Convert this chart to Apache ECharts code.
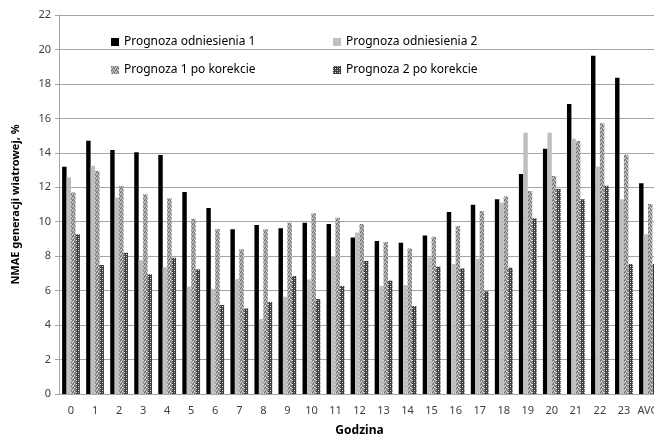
<!DOCTYPE html>
<html>
<head>
<meta charset="utf-8">
<script src="https://cdn.jsdelivr.net/npm/echarts@6/dist/echarts.min.js"></script>
<style>
html,body{margin:0;padding:0;background:#fff;overflow:hidden;}
#chart{width:654px;height:437px;}
</style>
</head>
<body>
<div id="chart"></div>
<script>
const categories = ['0','1','2','3','4','5','6','7','8','9','10','11','12','13','14','15','16','17','18','19','20','21','22','23','AVG'];
const seriesNames = ['Prognoza odniesienia 1','Prognoza odniesienia 2','Prognoza 1 po korekcie','Prognoza 2 po korekcie'];
const ref1 = [13.19,14.70,14.16,14.03,13.87,11.72,10.80,9.57,9.81,9.62,9.94,9.87,9.09,8.88,8.78,9.20,10.56,10.99,11.30,12.77,14.24,16.83,19.64,18.36,12.23];
const ref2 = [12.58,13.25,11.39,7.78,7.35,6.23,6.11,6.67,4.35,5.65,6.65,8.01,9.38,6.27,6.33,7.93,7.54,7.85,11.10,15.17,15.17,14.82,13.19,11.30,9.27];
const kor1 = [11.70,12.94,12.07,11.59,11.36,10.17,9.58,8.40,9.56,9.94,10.49,10.23,9.87,8.82,8.45,9.13,9.75,10.62,11.47,11.78,12.65,14.68,15.71,13.89,11.03];
const kor2 = [9.27,7.49,8.20,6.95,7.91,7.23,5.17,4.97,5.34,6.85,5.51,6.27,7.72,6.58,5.11,7.39,7.29,5.96,7.33,10.20,11.90,11.30,12.09,7.54,7.54];
const yTicks = {min:0, max:22, interval:2};

function makePattern(draw, w, h){
  const c = document.createElement('canvas');
  c.width = w; c.height = h;
  const ctx = c.getContext('2d');
  draw(ctx);
  return {image:c, repeat:'repeat'};
}
const pat1 = makePattern(function(ctx){
  ctx.fillStyle = '#9a9a9a'; ctx.fillRect(0,0,4,4);
  const dark = [[0,0],[2,1],[1,3],[3,2]];
  const light = [[1,1],[3,0],[0,2],[2,3]];
  ctx.fillStyle = '#707070'; dark.forEach(p=>ctx.fillRect(p[0],p[1],1,1));
  ctx.fillStyle = '#d4d4d4'; light.forEach(p=>ctx.fillRect(p[0],p[1],1,1));
},4,4);
const pat2 = makePattern(function(ctx){
  ctx.fillStyle = '#3c3c3c'; ctx.fillRect(0,0,4,4);
  ctx.fillStyle = '#e8e8e8';
  ctx.fillRect(0,0,1,1); ctx.fillRect(2,2,1,1);
  ctx.fillStyle = '#8a8a8a';
  ctx.fillRect(2,0,1,1); ctx.fillRect(0,2,1,1);
},4,4);

const font = 'Noto Sans';
const chart = echarts.init(document.getElementById('chart'), null, {renderer:'canvas'});
const colors = ['#000000','#bfbfbf',pat1,pat2];
const datas = [ref1, ref2, kor1, kor2];
chart.setOption({
  animation:false,
  textStyle:{fontFamily:font},
  grid:{left:59, top:15, width:601, bottom:43, containLabel:false, outerBoundsMode:'none'},
  legend:[
    {left:106, top:31, orient:'vertical', itemGap:16, itemWidth:8, itemHeight:8, icon:'rect',
     textStyle:{fontFamily:font, fontSize:12, color:'#000'}, data:[seriesNames[0], seriesNames[2]]},
    {left:328, top:31, orient:'vertical', itemGap:16, itemWidth:8, itemHeight:8, icon:'rect',
     textStyle:{fontFamily:font, fontSize:12, color:'#000'}, data:[seriesNames[1], seriesNames[3]]}
  ],
  xAxis:{
    type:'category', data:categories,
    name:'Godzina', nameLocation:'middle', nameGap:31,
    nameTextStyle:{fontFamily:font, fontSize:12, fontWeight:'bold', color:'#000'},
    axisLine:{lineStyle:{color:'#a6a6a6'}},
    axisTick:{show:false},
    axisLabel:{fontFamily:font, fontSize:11, color:'#404040', margin:11, interval:0, hideOverlap:false}
  },
  yAxis:{
    type:'value', min:yTicks.min, max:yTicks.max, interval:yTicks.interval,
    name:'NMAE generacji wiatrowej, %', nameLocation:'middle', nameGap:38,
    nameTextStyle:{fontFamily:font, fontSize:11, fontWeight:'bold', color:'#000'},
    axisLine:{show:true, lineStyle:{color:'#a6a6a6'}},
    axisTick:{show:true, length:4, lineStyle:{color:'#a6a6a6'}},
    axisLabel:{fontFamily:font, fontSize:11, color:'#404040', margin:8},
    splitLine:{lineStyle:{color:'#a6a6a6'}}
  },
  series: datas.map((d,i)=>({
    name:seriesNames[i], type:'bar', data:d,
    barGap:'0%', barCategoryGap:'26%',
    itemStyle:{color:colors[i]}
  }))
});
</script>
</body>
</html>
